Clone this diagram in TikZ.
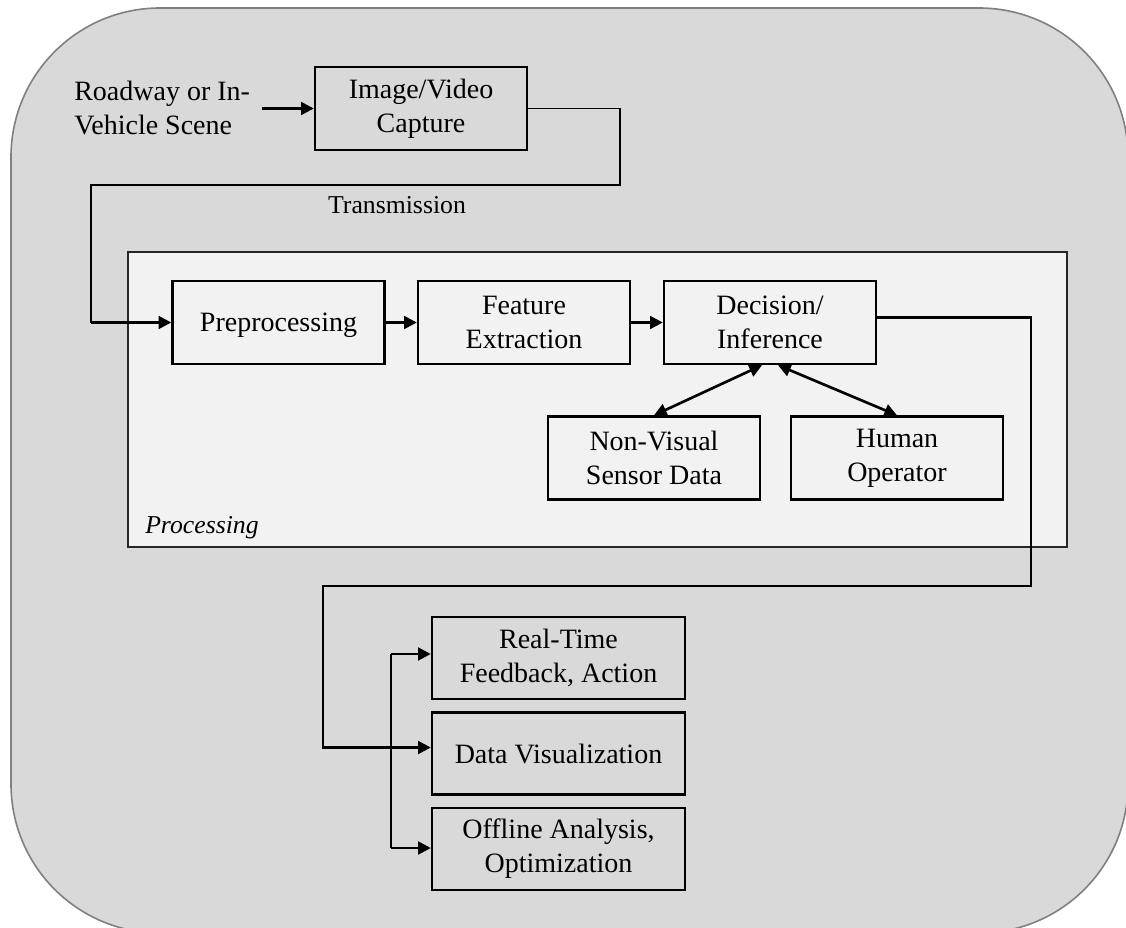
\documentclass[tikz,border=0pt]{standalone}
\usepackage{fontspec}
\setmainfont{Liberation Serif}
\usetikzlibrary{arrows.meta}

\definecolor{bgfill}{HTML}{D9D9D9}
\definecolor{bgline}{HTML}{808080}
\definecolor{procfill}{HTML}{F2F2F2}
\definecolor{procline}{HTML}{262626}

\tikzset{
    >={Triangle[length=9.5pt,width=9.5pt]},
    box/.style={draw, line width=1.8pt, align=center, inner sep=0pt,
        minimum width=159pt, minimum height=62.25pt,
        font=\fontsize{21}{25.5}\selectfont},
    outbox/.style={box, minimum width=189.75pt, minimum height=61.5pt},
    arr/.style={->, line width=2pt},
    biarr/.style={<->, line width=2pt},
    link/.style={line width=1pt},
    caption/.style={inner sep=0pt, font=\fontsize{19.3}{23}\selectfont}
}

\begin{document}
\begin{tikzpicture}[x=0.75pt, y=-0.75pt]
    \useasboundingbox (0,0) rectangle (1126,927);
    \begin{scope}
        \clip (0,0) rectangle (1126,927);
        \draw [fill=bgfill, draw=bgline, line width=1.2pt, rounded corners=111.75pt] (11,8) rectangle (1128,933);
    \end{scope}

    \node [draw=procline, fill=procfill, line width=1.4pt, minimum width=704.25pt, minimum height=221.25pt, inner sep=0pt] (proc) at (597.5,399.5) {};
    \node [caption, anchor=west, font=\fontsize{19.3}{23}\selectfont\itshape] (proclabel) at (145,528) {Processing};

    \node [anchor=west, align=left, inner sep=0pt, font=\fontsize{21}{25.5}\selectfont] (scene) at (74,108.5) {Roadway or In-\\Vehicle Scene};
    \node [box] (capture) at (421,108.5) {Image/Video\\Capture};
    \node [caption] (trans) at (397,205) {Transmission};

    \node [box, text depth=0pt] (pre) at (278.5,322.5) {Preprocessing};
    \node [box] (feat) at (524,322.5) {Feature\\Extraction};
    \node [box] (dec) at (770,322.5) {Decision/\\Inference};
    \node [box] (sensor) at (654,458) {Non-Visual\\Sensor Data};
    \node [box] (human) at (897,458) {Human\\Operator};

    \node [outbox] (realtime) at (558.5,658) {Real-Time\\Feedback, Action};
    \node [outbox] (vis) at (558.5,753.5) {Data Visualization};
    \node [outbox] (offline) at (558.5,849) {Offline Analysis,\\Optimization};

    \draw [arr] ([xshift=9pt]scene.east) -- (capture.west);

    \coordinate (txin) at (91,322.5);
    \draw [link] (capture.east) -| (620,185) -| (txin);
    \draw [arr] (txin) -- (pre.west);

    \draw [arr] (pre) -- (feat);
    \draw [arr] (feat) -- (dec);
    \draw [biarr] ([xshift=-6pt]dec.south) -- (sensor.north);
    \draw [biarr] ([xshift=6pt]dec.south) -- (human.north);

    \draw [arr] ([yshift=4pt]dec.east) -| (1031,586) -- (323,586) |- ([yshift=4.5pt]vis.west);

    \coordinate (fbtop) at (391,654);
    \coordinate (fbbot) at (391,848);
    \draw [link] (fbtop) -- (fbbot);
    \draw [arr] (fbtop) -- (fbtop -| realtime.west);
    \draw [arr] (fbbot) -- (fbbot -| offline.west);
\end{tikzpicture}
\end{document}
